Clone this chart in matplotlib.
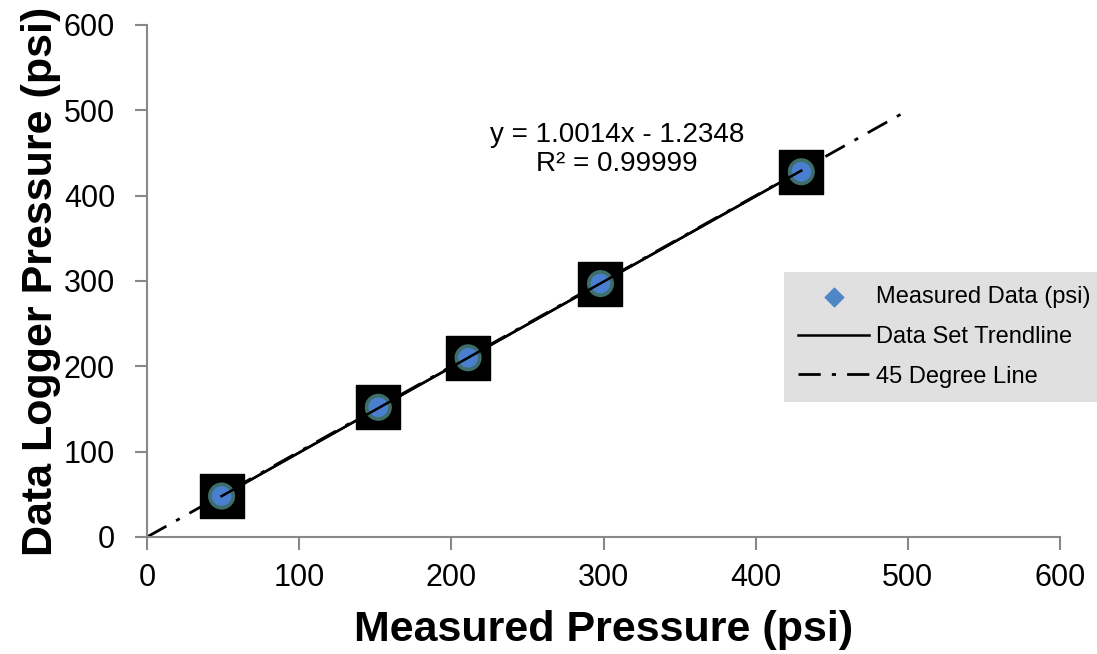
import matplotlib.pyplot as plt
import numpy as np

plt.rcParams['font.family'] = ['Liberation Sans', 'DejaVu Sans']

measured = np.array([49, 152, 211, 298, 430])
logger = np.array([48, 152, 210, 297, 428])
slope, intercept = 1.0014, -1.2348
line45 = np.array([0, 500])

fig = plt.figure(figsize=(10.97, 6.54), dpi=100)
ax = fig.add_axes([147/1097, 1 - 537/654, 913/1097, 512/654])

# trendline over the data range
tx = np.array([measured.min(), measured.max()])
ax.plot(tx, slope*tx + intercept, color='black', lw=1.8, zorder=3,
        label='Data Set Trendline')
ax.plot(line45, line45, color='black', lw=2, dashes=(8, 4, 1.5, 4),
        zorder=2, label='45 Degree Line')

# markers: black squares with a blurry blue disc inside
ax.scatter(measured, logger, marker='s', s=1000, color='black', zorder=4)
ax.scatter(measured, logger, marker='o', s=380, color='#3f6e6a', zorder=5,
           edgecolors='none')
ax.scatter(measured, logger, marker='o', s=200, color='#4a7fd0', zorder=6,
           edgecolors='none')
ax.plot(tx, slope*tx + intercept, color='black', lw=1.8, zorder=7)
ax.scatter([], [], marker='D', s=90, color='#4f86c6', label='Measured Data (psi)')

ax.text(309, 486, 'y = 1.0014x - 1.2348\nR² = 0.99999', ha='center', va='top',
        fontsize=20, linespacing=1.15)

ax.set_xlim(0, 600)
ax.set_ylim(0, 600)
ax.set_xticks(np.arange(0, 601, 100))
ax.set_yticks(np.arange(0, 601, 100))
ax.tick_params(labelsize=22, color='#888888', length=9, width=1.5)
ax.tick_params(axis='y', pad=14)
ax.tick_params(axis='x', pad=10)
for s in ['top', 'right']:
    ax.spines[s].set_visible(False)
for s in ['left', 'bottom']:
    ax.spines[s].set_color('#888888')
    ax.spines[s].set_linewidth(1.5)

ax.set_xlabel('Measured Pressure (psi)', fontsize=31, fontweight='bold', labelpad=12)
ax.set_ylabel('Data Logger Pressure (psi)', fontsize=31, fontweight='bold', labelpad=2)

h, l = ax.get_legend_handles_labels()
order = [2, 0, 1]
leg = ax.legend([h[i] for i in order], [l[i] for i in order],
                loc='upper left', bbox_to_anchor=(784/1097, 1 - 272/654),
                bbox_transform=fig.transFigure, fontsize=17, frameon=True,
                fancybox=False, handlelength=3.0, labelspacing=0.75,
                borderpad=0.6, handletextpad=0.3, borderaxespad=0)
leg.get_frame().set_facecolor('#e0e0e0')
leg.get_frame().set_edgecolor('none')
leg.get_frame().set_alpha(1)

fig.savefig('out.png', dpi=100)
